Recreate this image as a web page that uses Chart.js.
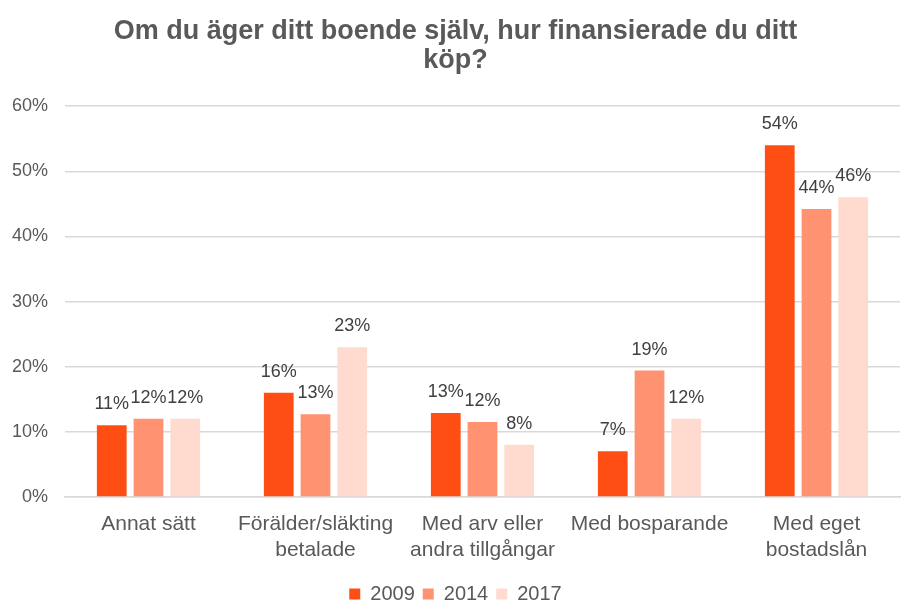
<!DOCTYPE html>
<html>
<head>
<meta charset="utf-8">
<script src="https://cdn.jsdelivr.net/npm/chart.js@4"></script>
<style>
  body { margin: 0; background: #fff; }
  #wrap { width: 902px; height: 601px; }
</style>
</head>
<body>
<div id="wrap"><canvas id="finansChart"></canvas></div>
<script>
const categories = [
  'Annat sätt',
  ['Förälder/släkting', 'betalade'],
  ['Med arv eller', 'andra tillgångar'],
  'Med bosparande',
  ['Med eget', 'bostadslån']
];
const years = ['2009', '2014', '2017'];
const values2009 = [11, 16, 12.9, 7, 54];
const values2014 = [12, 12.7, 11.5, 19.4, 44.2];
const values2017 = [12, 23, 8, 12, 46];
const yTicks = [0, 10, 20, 30, 40, 50, 60];

const colors = ['#FF4E14', '#FF9270', '#FFDACE'];
const font = 'Liberation Sans, Arial, sans-serif';

// etiketter ovanför staplarna
const barLabels = {
  id: 'barLabels',
  afterDatasetsDraw(chart) {
    const ctx = chart.ctx;
    ctx.save();
    ctx.font = '18px ' + font;
    ctx.fillStyle = '#404040';
    ctx.textAlign = 'center';
    ctx.textBaseline = 'middle';
    chart.data.datasets.forEach((ds, i) => {
      chart.getDatasetMeta(i).data.forEach((bar, j) => {
        ctx.fillText(Math.round(ds.data[j]) + '%', bar.x, bar.y - 21);
      });
    });
    ctx.restore();
  }
};

const ctx = document.getElementById('finansChart');
const myChart = new Chart(ctx, {
  type: 'bar',
  data: {
    labels: categories,
    datasets: [values2009, values2014, values2017].map((d, i) => ({
      label: years[i],
      data: d,
      backgroundColor: colors[i],
      categoryPercentage: 0.66,
      barPercentage: 0.81
    }))
  },
  options: {
    responsive: true,
    maintainAspectRatio: false,
    animation: false,
    layout: { padding: { left: 11, right: 2, top: 0, bottom: -13 } },
    scales: {
      x: {
        grid: { display: false },
        border: { color: '#d9d9d9', width: 1.5 },
        afterFit: axis => { axis.height += 7; },
        ticks: {
          color: '#595959',
          font: { family: font, size: 21, lineHeight: 1.24 },
          maxRotation: 0,
          autoSkip: false,
          padding: 6
        }
      },
      y: {
        min: 0,
        max: 60,
        afterBuildTicks: axis => { axis.ticks = yTicks.map(v => ({ value: v })); },
        afterFit: axis => { axis.width = 54; },
        grid: { color: '#d9d9d9', lineWidth: 1.5, drawTicks: false },
        border: { display: false },
        ticks: {
          color: '#595959',
          font: { family: font, size: 18 },
          padding: 17,
          callback: v => v + '%'
        }
      }
    },
    plugins: {
      title: {
        display: true,
        text: ['Om du äger ditt boende själv, hur finansierade du ditt', 'köp?'],
        color: '#595959',
        font: { family: font, size: 27, weight: 'bold', lineHeight: 1.04 },
        padding: { top: 18, bottom: 32 }
      },
      legend: {
        position: 'bottom',
        labels: {
          color: '#595959',
          font: { family: font, size: 20 },
          boxWidth: 11,
          boxHeight: 11,
          padding: 8
        }
      },
      tooltip: { enabled: false }
    }
  },
  plugins: [barLabels]
});
</script>
</body>
</html>
